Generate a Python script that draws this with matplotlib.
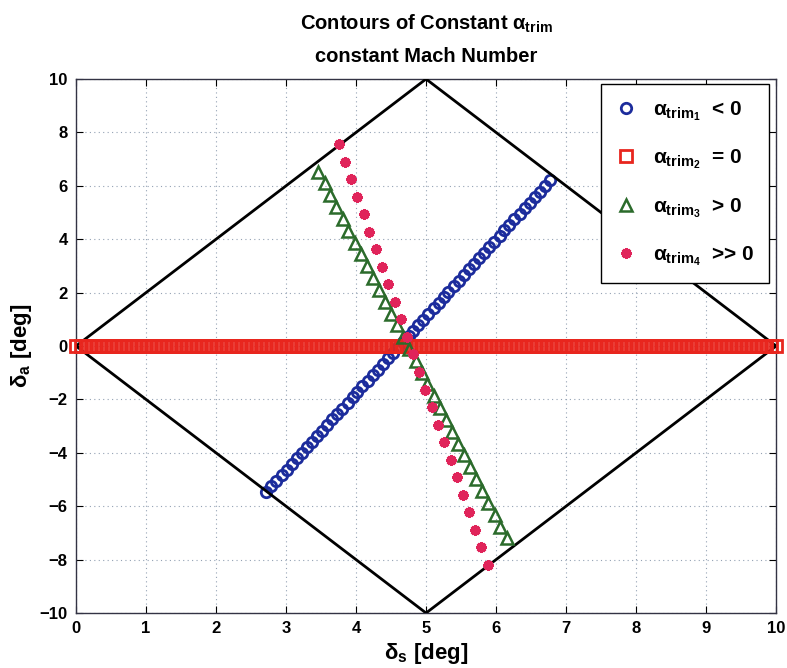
import matplotlib
matplotlib.use("Agg")
import matplotlib.pyplot as plt

plt.rcParams["font.family"] = ["Liberation Sans Narrow", "Liberation Sans", "DejaVu Sans"]
plt.rcParams["font.weight"] = "bold"
plt.rcParams["axes.titleweight"] = "bold"
plt.rcParams["axes.labelweight"] = "bold"
plt.rcParams["mathtext.fontset"] = "custom"
plt.rcParams["mathtext.rm"] = "Liberation Sans:bold"
plt.rcParams["mathtext.it"] = "Liberation Sans:bold"
plt.rcParams["mathtext.bf"] = "Liberation Sans:bold"

# trim envelope (stabilator / aileron limits)
env_x = [0, 5, 10, 5, 0]
env_y = [0, 10, 0, -10, 0]

# alpha_trim1 < 0
a1_x = [2.72, 2.79, 2.86, 2.94, 3.01, 3.08, 3.15, 3.23, 3.30, 3.37, 3.44,
        3.52, 3.59, 3.66, 3.73, 3.80, 3.88, 3.95, 4.02, 4.09, 4.17, 4.24,
        4.31, 4.38, 4.46, 4.53, 4.60, 4.67, 4.75, 4.82, 4.89, 4.96, 5.03,
        5.11, 5.18, 5.25, 5.32, 5.40, 5.47, 5.54, 5.61, 5.69, 5.76, 5.83,
        5.90, 5.97, 6.05, 6.12, 6.19, 6.26, 6.34, 6.41, 6.48, 6.55, 6.63,
        6.70, 6.77]
a1_y = [-5.46, -5.25, -5.04, -4.84, -4.63, -4.42, -4.21, -4.00, -3.79, -3.59,
        -3.38, -3.17, -2.96, -2.75, -2.54, -2.34, -2.13, -1.92, -1.71, -1.50,
        -1.30, -1.09, -0.88, -0.67, -0.46, -0.25, -0.05, 0.16, 0.37, 0.58,
        0.79, 0.99, 1.20, 1.41, 1.62, 1.83, 2.04, 2.24, 2.45, 2.66, 2.87,
        3.08, 3.29, 3.49, 3.70, 3.91, 4.12, 4.33, 4.53, 4.74, 4.95, 5.16,
        5.37, 5.58, 5.78, 5.99, 6.20]

# alpha_trim2 = 0
a2_x = [0.00, 0.07, 0.14, 0.21, 0.29, 0.36, 0.43, 0.50, 0.57, 0.64, 0.71, 0.79, 0.86, 0.93,
        1.00, 1.07, 1.14, 1.21, 1.29, 1.36, 1.43, 1.50, 1.57, 1.64, 1.71, 1.79, 1.86, 1.93,
        2.00, 2.07, 2.14, 2.21, 2.29, 2.36, 2.43, 2.50, 2.57, 2.64, 2.71, 2.79, 2.86, 2.93,
        3.00, 3.07, 3.14, 3.21, 3.29, 3.36, 3.43, 3.50, 3.57, 3.64, 3.71, 3.79, 3.86, 3.93,
        4.00, 4.07, 4.14, 4.21, 4.29, 4.36, 4.43, 4.50, 4.57, 4.64, 4.71, 4.79, 4.86, 4.93,
        5.00, 5.07, 5.14, 5.21, 5.29, 5.36, 5.43, 5.50, 5.57, 5.64, 5.71, 5.79, 5.86, 5.93,
        6.00, 6.07, 6.14, 6.21, 6.29, 6.36, 6.43, 6.50, 6.57, 6.64, 6.71, 6.79, 6.86, 6.93,
        7.00, 7.07, 7.14, 7.21, 7.29, 7.36, 7.43, 7.50, 7.57, 7.64, 7.71, 7.79, 7.86, 7.93,
        8.00, 8.07, 8.14, 8.21, 8.29, 8.36, 8.43, 8.50, 8.57, 8.64, 8.71, 8.79, 8.86, 8.93,
        9.00, 9.07, 9.14, 9.21, 9.29, 9.36, 9.43, 9.50, 9.57, 9.64, 9.71, 9.79, 9.86, 9.93,
        10.00]
a2_y = [0.0] * len(a2_x)

# alpha_trim3 > 0
a3_x = [3.46, 3.55, 3.63, 3.72, 3.81, 3.89, 3.98, 4.07, 4.15, 4.24, 4.33,
        4.41, 4.50, 4.59, 4.67, 4.76, 4.85, 4.94, 5.02, 5.11, 5.20, 5.28,
        5.37, 5.46, 5.54, 5.63, 5.72, 5.80, 5.89, 5.98, 6.06, 6.15]
a3_y = [6.53, 6.09, 5.64, 5.20, 4.76, 4.32, 3.87, 3.43, 2.99, 2.54, 2.10,
        1.66, 1.21, 0.77, 0.33, -0.11, -0.56, -1.00, -1.44, -1.89, -2.33,
        -2.77, -3.21, -3.66, -4.10, -4.54, -4.99, -5.43, -5.87, -6.31, -6.76,
        -7.20]

# alpha_trim4 >> 0
a4_x = [3.75, 3.84, 3.93, 4.02, 4.11, 4.19, 4.28, 4.37, 4.46, 4.55, 4.64,
        4.73, 4.82, 4.90, 4.99, 5.08, 5.17, 5.26, 5.35, 5.44, 5.53, 5.61,
        5.70, 5.79, 5.88]
a4_y = [7.57, 6.91, 6.26, 5.60, 4.94, 4.28, 3.63, 2.97, 2.31, 1.66, 1.00,
        0.34, -0.31, -0.97, -1.63, -2.29, -2.94, -3.60, -4.26, -4.91, -5.57,
        -6.23, -6.89, -7.54, -8.20]

fig = plt.figure(figsize=(7.87, 6.68), dpi=100)
ax = fig.add_axes([0.0966, 0.0823, 0.8895, 0.7994])

h1, = ax.plot(a1_x, a1_y, "o", ls="none", mfc="none", mec="#1c2c9c",
              ms=7.5, mew=2.0, zorder=2, label=r"$\alpha_{\mathrm{trim}_1}$  < 0")
ax.plot(env_x, env_y, color="black", lw=2.0, zorder=3)
h2, = ax.plot(a2_x, a2_y, "s", ls="none", mfc="none", mec="#e8261e",
              ms=8, mew=2.0, zorder=4, clip_on=False,
              label=r"$\alpha_{\mathrm{trim}_2}$  = 0")
h3, = ax.plot(a3_x, a3_y, "^", ls="none", mfc="none", mec="#2b6b2b",
              ms=8, mew=1.8, zorder=5, label=r"$\alpha_{\mathrm{trim}_3}$  > 0")
h4, = ax.plot(a4_x, a4_y, marker=(8, 2, 0), ls="none", mec="#e0245a",
              ms=7.5, mew=2.2, zorder=6, label=r"$\alpha_{\mathrm{trim}_4}$  >> 0")

ax.set_xlim(0, 10)
ax.set_ylim(-10, 10)
ax.set_xticks(range(0, 11))
ax.set_yticks(range(-10, 11, 2))
ax.tick_params(direction="in", length=5, top=True, right=True, labelsize=12, pad=6)
ax.grid(True, color="#94a2b4", lw=0.8, dashes=(1, 3))
for sp in ax.spines.values():
    sp.set_color("#333344")
    sp.set_linewidth(1.0)

ax.set_xlabel("δ$_\\mathrm{s}$ [deg]", fontsize=16, labelpad=3)
ax.set_ylabel("δ$_\\mathrm{a}$ [deg]", fontsize=16, labelpad=4)
ax.set_title("Contours of Constant α$_\\mathrm{trim}$" + "\nconstant Mach Number",
             fontsize=14.5, pad=12, linespacing=1.85)

leg = ax.legend(handles=[h1, h2, h3, h4], loc="upper right",
                bbox_to_anchor=(0.99, 0.99), fontsize=15, frameon=True,
                fancybox=False, edgecolor="black", framealpha=1,
                labelspacing=1.2, handlelength=1.0, handletextpad=0.8,
                borderpad=0.7, borderaxespad=0)
leg.get_frame().set_linewidth(1.0)

fig.savefig("out.png", dpi=100, facecolor="white")
